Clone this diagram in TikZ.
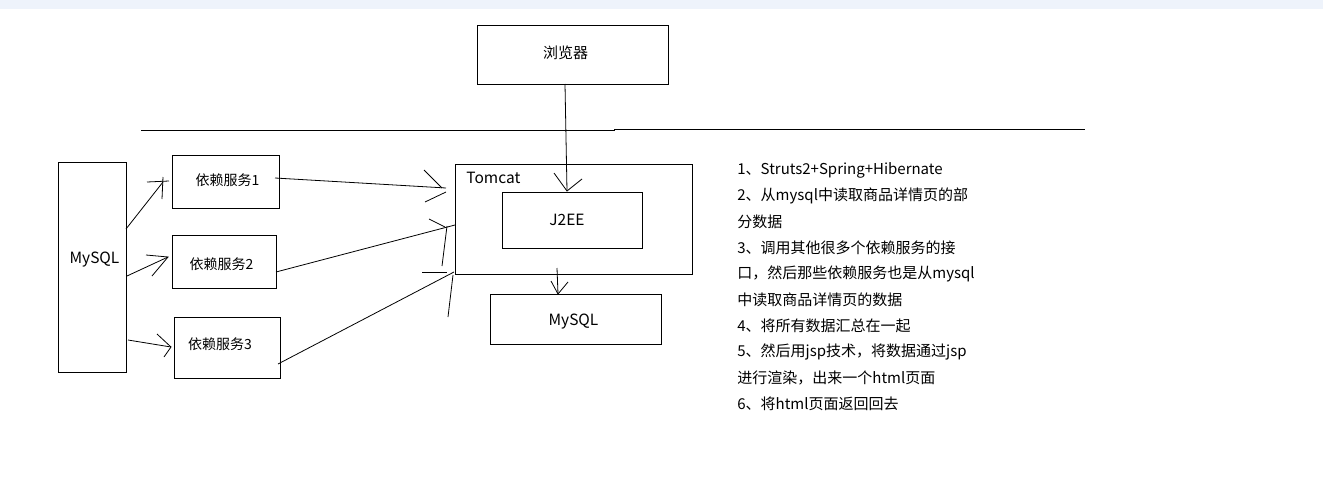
\documentclass[tikz,border=0pt]{standalone}
\usepackage{fontspec}
\setmainfont{Noto Sans CJK SC}
\usetikzlibrary{calc}
\definecolor{topband}{HTML}{EEF3FB}
\begin{document}
\begin{tikzpicture}[x=1pt,y=-1pt,line width=0.8pt,
  box/.style={draw,rectangle,inner sep=0pt,outer sep=0pt},
  lbl/.style={inner sep=0pt,font=\fontsize{14}{16}\selectfont},
  latlbl/.style={inner sep=0pt,font=\fontsize{15.5}{17}\selectfont},
  txt/.style={inner sep=0pt,anchor=west,font=\fontsize{15}{18}\selectfont},
  conn/.style={line width=0.8pt}]
\useasboundingbox (0,0) rectangle (1323,490);
\fill[topband] (0,0) rectangle (1323,9);

% boxes
\node[box,minimum width=191pt,minimum height=59pt] (browser) at (572.5,54.5) {};
\node[box,minimum width=237pt,minimum height=110pt] (tomcat) at (573.5,219) {};
\node[box,minimum width=140pt,minimum height=56pt] (j2ee) at (572,220) {};
\node[box,minimum width=171pt,minimum height=50pt] (mysqlB) at (575.5,319) {};
\node[box,minimum width=68pt,minimum height=210pt] (mysqlL) at (92,267) {};
\node[box,minimum width=107pt,minimum height=53pt] (s1) at (225.5,181.5) {};
\node[box,minimum width=104pt,minimum height=53pt] (s2) at (224,261.5) {};
\node[box,minimum width=106pt,minimum height=61pt] (s3) at (227,347.5) {};

% labels
\node[lbl] (lbrowser) at (565.5,53) {\fontsize{15}{17}\selectfont 浏览器};
\node[latlbl,anchor=west] (ltomcat) at (466,178) {Tomcat};
\node[latlbl] (lj2ee) at (567,220) {J2EE};
\node[latlbl] (lmysqlB) at (573.5,322) {MySQL};
\node[latlbl] (lmysqlL) at (94.5,260) {MySQL};
\node[lbl] (ls1) at (227.5,180) {依赖服务1};
\node[lbl] (ls2) at (221.5,264) {依赖服务2};
\node[lbl] (ls3) at (220,344) {依赖服务3};

% separator line
\draw[conn] (141,130) -- (614,130) -- (614,129) -- (1085,129);

% browser -> J2EE
\coordinate (tb) at ($(j2ee.north)+(-5,-1)$);
\draw[conn] ($(browser.south)+(-7.5,0)$) -- (tb);
\draw[conn] ($(tb)+(-13,-18)$) -- (tb) -- ($(tb)+(15,-12)$);

% tomcat -> mysql bottom
\coordinate (tm) at ($(mysqlB.north)+(-17.5,0)$);
\draw[conn] ($(tomcat.south)+(-16.5,-6)$) -- (tm);
\draw[conn] ($(tm)+(-7,-13)$) -- (tm) -- ($(tm)+(10,-12)$);

% mysql left -> services
\coordinate (t1) at ($(s1.west)+(-9,0.5)$);
\draw[conn] ($(mysqlL.east)+(0,-38)$) -- (t1);
\draw[conn] ($(t1)+(-16,0)$) -- ($(t1)+(6,-1)$);
\draw[conn] ($(t1)+(-1,17)$) -- ($(t1)+(0,-5)$);

\coordinate (t2) at ($(s2.west)+(-4,-4.5)$);
\draw[conn] ($(mysqlL.east)+(1,9)$) -- (t2);
\draw[conn] ($(t2)+(-22,-2)$) -- (t2) -- ($(t2)+(-16,19)$);

\coordinate (t3) at ($(s3.west)+(-3,-0.5)$);
\draw[conn] ($(mysqlL.east)+(2,73)$) -- (t3);
\draw[conn] ($(t3)+(-14,-13)$) -- (t3) -- ($(t3)+(-7,10)$);

% services -> tomcat
\coordinate (u1) at ($(tomcat.west)+(-9,-31)$);
\draw[conn] ($(s1.east)+(-4,-3.5)$) -- (u1);
\draw[conn] ($(u1)+(-22,-18)$) -- ($(u1)+(-4,0)$);
\draw[conn] ($(u1)+(-21,14)$) -- ($(u1)+(0,4)$);

\coordinate (u2) at ($(tomcat.west)+(0,6)$);
\draw[conn] ($(s2.east)+(0,10.5)$) -- (u2);
\draw[conn] ($(u2)+(-26,-6)$) -- ($(u2)+(-10,2)$);
\draw[conn] ($(u2)+(-13,41)$) -- ($(u2)+(-8,1)$);

\coordinate (u3) at ($(tomcat.south west)+(-1,-2)$);
\draw[conn] ($(s3.east)+(-2,16.5)$) -- (u3);
\draw[conn] ($(u3)+(-32,0)$) -- ($(u3)+(-7,0)$);
\draw[conn] ($(u3)+(-6,45)$) -- ($(u3)+(-1,3)$);

% description
\node[txt] (d1) at (737,170) {1、Struts2+Spring+Hibernate};
\node[txt] (d2) at (737,196) {2、从mysql中读取商品详情页的部};
\node[txt] (d3) at (737,222) {分数据};
\node[txt] (d4) at (737,248) {3、调用其他很多个依赖服务的接};
\node[txt] (d5) at (737,274) {口，然后那些依赖服务也是从mysql};
\node[txt] (d6) at (737,300) {中读取商品详情页的数据};
\node[txt] (d7) at (737,326) {4、将所有数据汇总在一起};
\node[txt] (d8) at (737,352) {5、然后用jsp技术，将数据通过jsp};
\node[txt] (d9) at (737,378) {进行渲染，出来一个html页面};
\node[txt] (d10) at (737,404) {6、将html页面返回回去};
\end{tikzpicture}
\end{document}
